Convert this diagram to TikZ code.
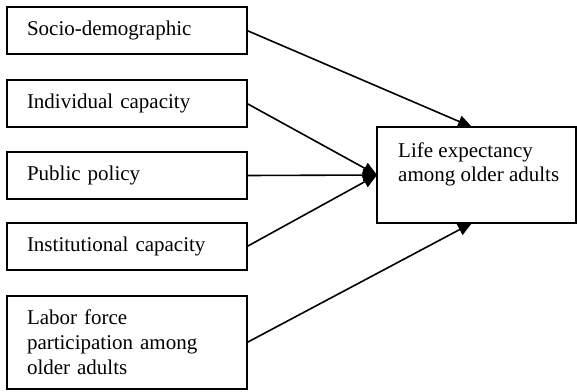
\documentclass[tikz,border=0pt]{standalone}
\usepackage{fontspec}
\setmainfont{Liberation Serif}
\usetikzlibrary{arrows.meta,calc}
\begin{document}
\begin{tikzpicture}[x=1pt,y=-1pt,
  factor/.style={draw,line width=1.6pt,anchor=north west,inner xsep=20pt,inner ysep=0pt,
    text width=200pt,minimum height=47pt,align=left,outer sep=0pt,
    font=\fontsize{21}{25}\selectfont},
  link/.style={line width=1.6pt,-{Triangle[length=14pt,width=12pt]}}]
\useasboundingbox (0,0) rectangle (577,391);
% explanatory factors
\node[factor] (s1) at (7,7) {Socio-demographic};
\node[factor] (s2) at (7,80) {Individual capacity};
\node[factor] (s3) at (7,152) {Public policy};
\node[factor] (s4) at (7,223) {Institutional capacity};
\node[factor,minimum height=93pt] (s5) at (7,296) {Labor force\\participation among\\older adults};
% outcome
\node[draw,line width=1.6pt,anchor=north west,minimum width=199pt,minimum height=96pt,outer sep=0pt] (target) at (377,127) {};
\node[anchor=north west,align=left,inner sep=0pt,font=\fontsize{21}{23.5}\selectfont] (targettext) at (398,143) {Life expectancy\\among older adults};
% connectors
\draw[link] (s1.east) -- ([xshift=95pt]target.north west);
\draw[link] (s2.east) -- (target.west);
\draw[link] (s3.east) -- (target.west);
\draw[link] (s4.east) -- (target.west);
\draw[link] (s5.east) -- ([xshift=95pt]target.south west);
\end{tikzpicture}
\end{document}
